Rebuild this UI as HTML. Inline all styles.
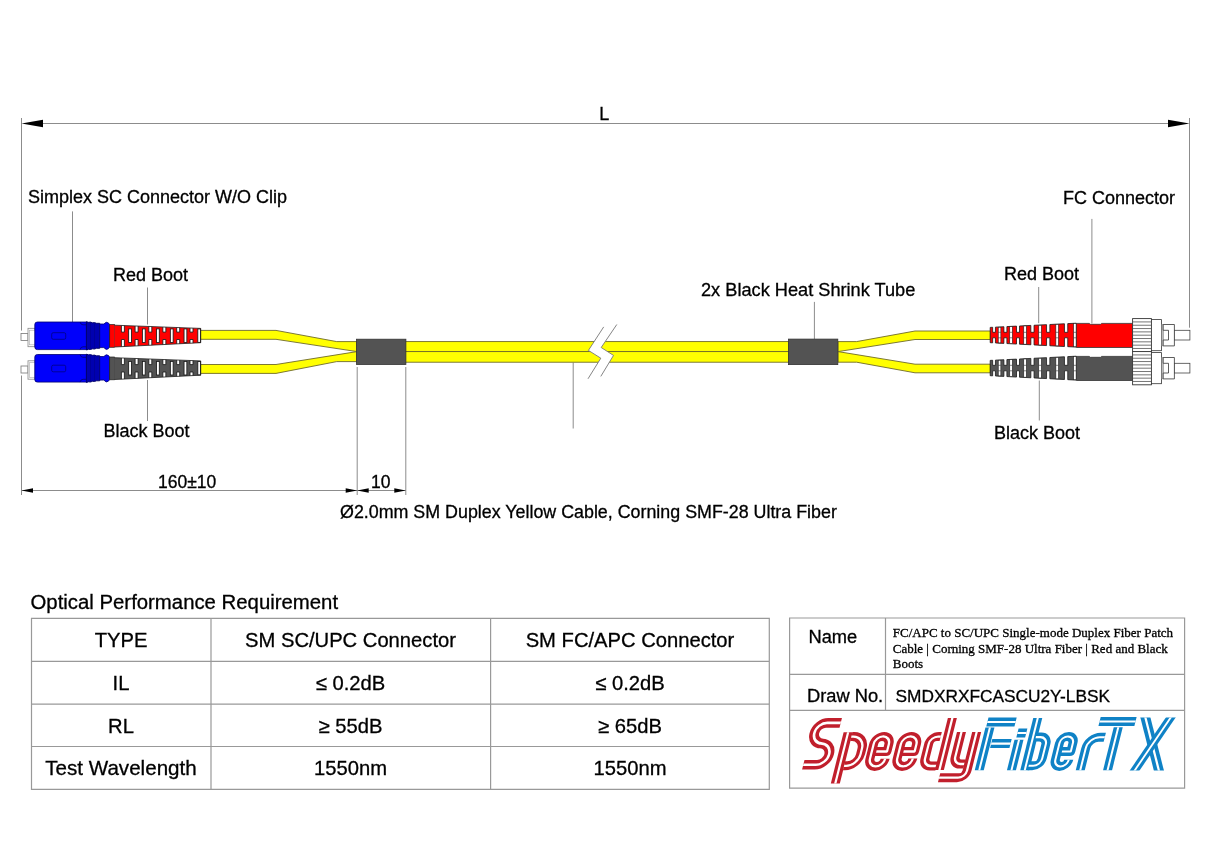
<!DOCTYPE html>
<html><head><meta charset="utf-8"><title>Drawing</title>
<style>
html,body{margin:0;padding:0;background:#fff;}
body{width:1214px;height:859px;overflow:hidden;font-family:"Liberation Sans",sans-serif;}
svg{display:block;will-change:transform;}
text{fill:#000;stroke:#000;stroke-width:0.3px;}
</style></head><body>
<svg width="1214" height="859" viewBox="0 0 1214 859">
<rect width="1214" height="859" fill="#fff"/>
<path d="M21.5 118 V330.6 M21.5 375.5 V495 M1189.5 118 V327.7" stroke="#8c8c8c" stroke-width="1"/>
<path d="M43 123.5 H1168" stroke="#8c8c8c" stroke-width="1.1"/>
<path d="M21.5 123.5 L43 119.8 L43 127.3 Z" fill="#000"/>
<path d="M1189.5 123.5 L1168 119.8 L1168 127.3 Z" fill="#000"/>
<path d="M72.5 211.4 V322 M147.5 287.5 V324.5 M147.5 380 V421 M814.4 301.9 V339 M1038.7 287 V323.2 M1039.3 380.5 V420.5 M1091.9 218.9 V323.4 M573.2 362.5 V428.5" stroke="#8c8c8c" stroke-width="1"/>
<path d="M357.2 367 V495 M405.8 367 V495" stroke="#8c8c8c" stroke-width="1"/>
<path d="M21.5 490.5 H405.8" stroke="#8c8c8c" stroke-width="1"/>
<path d="M21.5 490.5 L33 488.3 L33 492.7 Z M357.2 490.5 L345.7 488.3 L345.7 492.7 Z M357.2 490.5 L368.7 488.3 L368.7 492.7 Z M405.8 490.5 L394.3 488.3 L394.3 492.7 Z" fill="#000"/>
<path d="M200 330.4 H276 L336.7 341.6 H357 V351.6 L276 339.3 H200 Z" fill="#ffff00" stroke="#6e6a2a" stroke-width="0.9"/>
<path d="M200 364.5 H276 L357 351.6 V361.6 H336.7 L276 373.4 H200 Z" fill="#ffff00" stroke="#6e6a2a" stroke-width="0.9"/>
<rect x="357" y="341.6" width="432" height="10" fill="#ffff00" stroke="#6e6a2a" stroke-width="0.9"/>
<rect x="357" y="351.6" width="432" height="10.6" fill="#ffff00" stroke="#6e6a2a" stroke-width="0.9"/>
<path d="M838 341.6 H856.6 L915 331 H990.4 V339.5 H915 L838 351.6 Z" fill="#ffff00" stroke="#6e6a2a" stroke-width="0.9"/>
<path d="M838 351.6 L915 364.2 H990.4 V372.8 H915 L856.6 362.2 H838 Z" fill="#ffff00" stroke="#6e6a2a" stroke-width="0.9"/>
<path d="M603.7 326.9 L588.4 350.4 L600.8 358.2 L588 378.8 L600.8 376.4 L613.5 355.4 L601.2 347.5 L616.8 324.5 Z" fill="#fff" stroke="none"/>
<path d="M603.7 326.9 L588.4 350.4 L600.8 358.2 L588 378.8 M616.8 324.5 L601.2 347.5 L613.5 355.4 L600.8 376.4" fill="none" stroke="#777" stroke-width="0.9"/>
<rect x="356.5" y="339.2" width="49.4" height="25.3" fill="#535353" stroke="#333" stroke-width="0.8"/>
<rect x="788.5" y="339.1" width="49.3" height="25.5" fill="#535353" stroke="#333" stroke-width="0.8"/>
<rect x="21" y="333.5" width="7" height="7" fill="#fff" stroke="#777" stroke-width="0.8"/>
<rect x="28" y="328.3" width="7" height="18.4" fill="#fff" stroke="#888" stroke-width="0.8"/>
<rect x="29.6" y="330.2" width="5.4" height="14.6" fill="#fff" stroke="#aaa" stroke-width="0.6"/>
<rect x="34.8" y="322" width="54" height="27.6" rx="2.6" fill="#0000fb" stroke="#000070" stroke-width="0.8"/>
<rect x="51.7" y="332.7" width="14" height="6.6" rx="1.5" fill="none" stroke="#000080" stroke-width="0.8"/>
<path d="M80.1 322 Q80.6 324.8 83 324.8 H86.4 M80.1 349.6 Q80.6 346.8 83 346.8 H86.4" fill="none" stroke="#000070" stroke-width="0.8"/>
<path d="M86.4 321.7 L88.5 322.3 L90.5 322.1 L92.5 322.8 L94.5 322.6 L96.5 323.3 L99.7 323.3 L99.7 348.3 L96.5 348.3 L94.5 349 L92.5 348.8 L90.5 349.5 L88.5 349.3 L86.4 350 Z" fill="#0000b0" stroke="#000060" stroke-width="0.9"/>
<path d="M90.5 322.5 V349.2 M94.5 323 V348.6" stroke="#000095" stroke-width="0.8"/>
<path d="M99.7 324 H103.9 Q106.2 321 108.5 323 L109.5 324.5 V347.2 L108.5 348.6 Q106.2 350.8 103.9 347.6 H99.7 Z" fill="#0000fb" stroke="#000070" stroke-width="0.8"/>
<rect x="109.7" y="324.5" width="4.8" height="22.8" fill="#ff0000" stroke="#222" stroke-width="0.7"/>
<path d="M114.5 325.2 L200.7 328.4 L200.7 342.7 L114.5 347 Z" fill="#ff0000"/>
<path d="M121.40 325.51 V332.1 H124.40 V325.51" fill="#fff" stroke="#1a1a1a" stroke-width="0.85"/>
<path d="M121.40 346.58 V339.5 H124.40 V346.58" fill="#fff" stroke="#1a1a1a" stroke-width="0.85"/>
<path d="M135.10 326.02 V332.1 H138.10 V326.02" fill="#fff" stroke="#1a1a1a" stroke-width="0.85"/>
<path d="M135.10 345.90 V339.5 H138.10 V345.90" fill="#fff" stroke="#1a1a1a" stroke-width="0.85"/>
<path d="M148.80 326.53 V332.1 H151.80 V326.53" fill="#fff" stroke="#1a1a1a" stroke-width="0.85"/>
<path d="M148.80 345.21 V339.5 H151.80 V345.21" fill="#fff" stroke="#1a1a1a" stroke-width="0.85"/>
<path d="M162.85 327.05 V332.1 H165.85 V327.05" fill="#fff" stroke="#1a1a1a" stroke-width="0.85"/>
<path d="M162.85 344.51 V339.5 H165.85 V344.51" fill="#fff" stroke="#1a1a1a" stroke-width="0.85"/>
<path d="M176.70 327.56 V332.1 H179.70 V327.56" fill="#fff" stroke="#1a1a1a" stroke-width="0.85"/>
<path d="M176.70 343.82 V339.5 H179.70 V343.82" fill="#fff" stroke="#1a1a1a" stroke-width="0.85"/>
<path d="M190.00 328.06 V332.1 H193.00 V328.06" fill="#fff" stroke="#1a1a1a" stroke-width="0.85"/>
<path d="M190.00 343.16 V339.5 H193.00 V343.16" fill="#fff" stroke="#1a1a1a" stroke-width="0.85"/>
<rect x="128.65" y="328.90" width="2.8" height="13.60" fill="#fff" stroke="#1a1a1a" stroke-width="0.85"/>
<rect x="142.40" y="328.90" width="2.8" height="13.60" fill="#fff" stroke="#1a1a1a" stroke-width="0.85"/>
<rect x="156.50" y="328.90" width="2.8" height="13.60" fill="#fff" stroke="#1a1a1a" stroke-width="0.85"/>
<rect x="170.35" y="328.90" width="2.8" height="13.60" fill="#fff" stroke="#1a1a1a" stroke-width="0.85"/>
<rect x="184.05" y="328.90" width="2.8" height="13.60" fill="#fff" stroke="#1a1a1a" stroke-width="0.85"/>
<rect x="197.80" y="328.94" width="2.8" height="13.43" fill="#fff" stroke="#1a1a1a" stroke-width="0.85"/>
<path d="M114.5 325.2 L200.7 328.4 L200.7 342.7 L114.5 347" fill="none" stroke="#222" stroke-width="0.8"/>
<rect x="21" y="366.0" width="7" height="7" fill="#fff" stroke="#777" stroke-width="0.8"/>
<rect x="28" y="360.8" width="7" height="18.4" fill="#fff" stroke="#888" stroke-width="0.8"/>
<rect x="29.6" y="362.7" width="5.4" height="14.6" fill="#fff" stroke="#aaa" stroke-width="0.6"/>
<rect x="34.8" y="354.5" width="54" height="27.6" rx="2.6" fill="#0000fb" stroke="#000070" stroke-width="0.8"/>
<rect x="51.7" y="365.2" width="14" height="6.6" rx="1.5" fill="none" stroke="#000080" stroke-width="0.8"/>
<path d="M80.1 354.5 Q80.6 357.3 83 357.3 H86.4 M80.1 382.1 Q80.6 379.3 83 379.3 H86.4" fill="none" stroke="#000070" stroke-width="0.8"/>
<path d="M86.4 354.2 L88.5 354.8 L90.5 354.6 L92.5 355.3 L94.5 355.1 L96.5 355.8 L99.7 355.8 L99.7 380.8 L96.5 380.8 L94.5 381.5 L92.5 381.3 L90.5 382.0 L88.5 381.8 L86.4 382.5 Z" fill="#0000b0" stroke="#000060" stroke-width="0.9"/>
<path d="M90.5 355.0 V381.7 M94.5 355.5 V381.1" stroke="#000095" stroke-width="0.8"/>
<path d="M99.7 356.5 H103.9 Q106.2 353.5 108.5 355.5 L109.5 357.0 V379.7 L108.5 381.1 Q106.2 383.3 103.9 380.1 H99.7 Z" fill="#0000fb" stroke="#000070" stroke-width="0.8"/>
<rect x="109.7" y="357.0" width="4.8" height="22.8" fill="#535353" stroke="#222" stroke-width="0.7"/>
<path d="M114.5 357.7 L200.7 360.9 L200.7 375.2 L114.5 379.5 Z" fill="#535353"/>
<path d="M121.40 358.01 V364.6 H124.40 V358.01" fill="#fff" stroke="#1a1a1a" stroke-width="0.85"/>
<path d="M121.40 379.08 V372.0 H124.40 V379.08" fill="#fff" stroke="#1a1a1a" stroke-width="0.85"/>
<path d="M135.10 358.52 V364.6 H138.10 V358.52" fill="#fff" stroke="#1a1a1a" stroke-width="0.85"/>
<path d="M135.10 378.40 V372.0 H138.10 V378.40" fill="#fff" stroke="#1a1a1a" stroke-width="0.85"/>
<path d="M148.80 359.03 V364.6 H151.80 V359.03" fill="#fff" stroke="#1a1a1a" stroke-width="0.85"/>
<path d="M148.80 377.71 V372.0 H151.80 V377.71" fill="#fff" stroke="#1a1a1a" stroke-width="0.85"/>
<path d="M162.85 359.55 V364.6 H165.85 V359.55" fill="#fff" stroke="#1a1a1a" stroke-width="0.85"/>
<path d="M162.85 377.01 V372.0 H165.85 V377.01" fill="#fff" stroke="#1a1a1a" stroke-width="0.85"/>
<path d="M176.70 360.06 V364.6 H179.70 V360.06" fill="#fff" stroke="#1a1a1a" stroke-width="0.85"/>
<path d="M176.70 376.32 V372.0 H179.70 V376.32" fill="#fff" stroke="#1a1a1a" stroke-width="0.85"/>
<path d="M190.00 360.56 V364.6 H193.00 V360.56" fill="#fff" stroke="#1a1a1a" stroke-width="0.85"/>
<path d="M190.00 375.66 V372.0 H193.00 V375.66" fill="#fff" stroke="#1a1a1a" stroke-width="0.85"/>
<rect x="128.65" y="361.40" width="2.8" height="13.60" fill="#fff" stroke="#1a1a1a" stroke-width="0.85"/>
<rect x="142.40" y="361.40" width="2.8" height="13.60" fill="#fff" stroke="#1a1a1a" stroke-width="0.85"/>
<rect x="156.50" y="361.40" width="2.8" height="13.60" fill="#fff" stroke="#1a1a1a" stroke-width="0.85"/>
<rect x="170.35" y="361.40" width="2.8" height="13.60" fill="#fff" stroke="#1a1a1a" stroke-width="0.85"/>
<rect x="184.05" y="361.40" width="2.8" height="13.60" fill="#fff" stroke="#1a1a1a" stroke-width="0.85"/>
<rect x="197.80" y="361.44" width="2.8" height="13.43" fill="#fff" stroke="#1a1a1a" stroke-width="0.85"/>
<path d="M114.5 357.7 L200.7 360.9 L200.7 375.2 L114.5 379.5" fill="none" stroke="#222" stroke-width="0.8"/>
<path d="M990.20 327.40 L992.65 327.28 L992.65 332.30 L995.45 332.30 L995.45 327.14 L1003.90 326.73 L1003.90 332.30 L1006.90 332.30 L1006.90 326.58 L1016.50 326.12 L1016.50 332.30 L1019.50 332.30 L1019.50 325.97 L1030.85 325.41 L1030.85 332.30 L1034.05 332.30 L1034.05 325.26 L1046.55 324.65 L1046.55 332.30 L1049.85 332.30 L1049.85 324.49 L1064.45 323.77 L1064.45 332.30 L1067.75 332.30 L1067.75 323.61 L1076.20 323.20 L1076.20 347.10 L1067.75 346.67 L1067.75 337.80 L1064.45 337.80 L1064.45 346.50 L1049.85 345.75 L1049.85 337.80 L1046.55 337.80 L1046.55 345.58 L1034.05 344.94 L1034.05 337.80 L1030.85 337.80 L1030.85 344.78 L1019.50 344.20 L1019.50 337.80 L1016.50 337.80 L1016.50 344.05 L1006.90 343.55 L1006.90 337.80 L1003.90 337.80 L1003.90 343.40 L995.45 342.97 L995.45 337.80 L992.65 337.80 L992.65 342.83 L990.20 342.70 Z" fill="#ff0000" stroke="#1a1a1a" stroke-width="0.8"/>
<rect x="998.25" y="327.24" width="2.6" height="15.63" fill="#fff" stroke="#222" stroke-width="0.6"/>
<path d="M998.25 332.30 h2.6 M998.25 337.80 h2.6" stroke="#333" stroke-width="0.6"/>
<rect x="1009.75" y="326.68" width="2.6" height="16.78" fill="#fff" stroke="#222" stroke-width="0.6"/>
<path d="M1009.75 332.30 h2.6 M1009.75 337.80 h2.6" stroke="#333" stroke-width="0.6"/>
<rect x="1023.75" y="326.00" width="2.6" height="18.19" fill="#fff" stroke="#222" stroke-width="0.6"/>
<path d="M1023.75 332.30 h2.6 M1023.75 337.80 h2.6" stroke="#333" stroke-width="0.6"/>
<rect x="1038.75" y="325.27" width="2.6" height="19.69" fill="#fff" stroke="#222" stroke-width="0.6"/>
<path d="M1038.75 332.30 h2.6 M1038.75 337.80 h2.6" stroke="#333" stroke-width="0.6"/>
<rect x="1055.85" y="324.43" width="2.6" height="21.40" fill="#fff" stroke="#222" stroke-width="0.6"/>
<path d="M1055.85 332.30 h2.6 M1055.85 337.80 h2.6" stroke="#333" stroke-width="0.6"/>
<rect x="1073.60" y="323.56" width="2.6" height="23.17" fill="#fff" stroke="#222" stroke-width="0.6"/>
<path d="M1073.60 332.30 h2.6 M1073.60 337.80 h2.6" stroke="#333" stroke-width="0.6"/>
<path d="M1076.4 323.4 H1089.3 L1090.3 324.3 H1100.6 L1101.6 323.4 H1132.6 V347.5 H1076.4 Z" fill="#ff0000" stroke="#333" stroke-width="0.8"/>
<rect x="1132.6" y="318.6" width="18.8" height="33.2" fill="#fff" stroke="#333" stroke-width="0.9"/>
<path d="M1133 321.92 H1151 M1133 325.24 H1151 M1133 328.56 H1151 M1133 331.88 H1151 M1133 335.20 H1151 M1133 338.52 H1151 M1133 341.84 H1151 M1133 345.16 H1151 M1133 348.48 H1151" stroke="#666" stroke-width="0.9"/>
<rect x="1151.4" y="319.6" width="10.2" height="31.1" fill="#fff" stroke="#333" stroke-width="0.8"/>
<rect x="1161.6" y="324.5" width="1.8" height="21.4" fill="#bbb" stroke="#777" stroke-width="0.5"/>
<path d="M1163.2 324.5 H1174.4 V345.9 H1163.2 V340 H1168.5 V330.3 H1163.2 Z" fill="#fff" stroke="#333" stroke-width="0.8"/>
<rect x="1174.4" y="330.3" width="15.5" height="9.7" fill="#fff" stroke="#444" stroke-width="0.8"/>
<path d="M990.20 360.40 L992.65 360.28 L992.65 365.30 L995.45 365.30 L995.45 360.14 L1003.90 359.73 L1003.90 365.30 L1006.90 365.30 L1006.90 359.58 L1016.50 359.12 L1016.50 365.30 L1019.50 365.30 L1019.50 358.97 L1030.85 358.41 L1030.85 365.30 L1034.05 365.30 L1034.05 358.26 L1046.55 357.65 L1046.55 365.30 L1049.85 365.30 L1049.85 357.49 L1064.45 356.77 L1064.45 365.30 L1067.75 365.30 L1067.75 356.61 L1076.20 356.20 L1076.20 380.10 L1067.75 379.67 L1067.75 370.80 L1064.45 370.80 L1064.45 379.50 L1049.85 378.75 L1049.85 370.80 L1046.55 370.80 L1046.55 378.58 L1034.05 377.94 L1034.05 370.80 L1030.85 370.80 L1030.85 377.78 L1019.50 377.20 L1019.50 370.80 L1016.50 370.80 L1016.50 377.05 L1006.90 376.55 L1006.90 370.80 L1003.90 370.80 L1003.90 376.40 L995.45 375.97 L995.45 370.80 L992.65 370.80 L992.65 375.83 L990.20 375.70 Z" fill="#535353" stroke="#1a1a1a" stroke-width="0.8"/>
<rect x="998.25" y="360.24" width="2.6" height="15.63" fill="#fff" stroke="#222" stroke-width="0.6"/>
<path d="M998.25 365.30 h2.6 M998.25 370.80 h2.6" stroke="#333" stroke-width="0.6"/>
<rect x="1009.75" y="359.68" width="2.6" height="16.78" fill="#fff" stroke="#222" stroke-width="0.6"/>
<path d="M1009.75 365.30 h2.6 M1009.75 370.80 h2.6" stroke="#333" stroke-width="0.6"/>
<rect x="1023.75" y="359.00" width="2.6" height="18.19" fill="#fff" stroke="#222" stroke-width="0.6"/>
<path d="M1023.75 365.30 h2.6 M1023.75 370.80 h2.6" stroke="#333" stroke-width="0.6"/>
<rect x="1038.75" y="358.27" width="2.6" height="19.69" fill="#fff" stroke="#222" stroke-width="0.6"/>
<path d="M1038.75 365.30 h2.6 M1038.75 370.80 h2.6" stroke="#333" stroke-width="0.6"/>
<rect x="1055.85" y="357.43" width="2.6" height="21.40" fill="#fff" stroke="#222" stroke-width="0.6"/>
<path d="M1055.85 365.30 h2.6 M1055.85 370.80 h2.6" stroke="#333" stroke-width="0.6"/>
<rect x="1073.60" y="356.56" width="2.6" height="23.17" fill="#fff" stroke="#222" stroke-width="0.6"/>
<path d="M1073.60 365.30 h2.6 M1073.60 370.80 h2.6" stroke="#333" stroke-width="0.6"/>
<path d="M1076.4 356.4 H1089.3 L1090.3 357.3 H1100.6 L1101.6 356.4 H1132.6 V380.5 H1076.4 Z" fill="#535353" stroke="#333" stroke-width="0.8"/>
<rect x="1132.6" y="351.6" width="18.8" height="33.2" fill="#fff" stroke="#333" stroke-width="0.9"/>
<path d="M1133 354.92 H1151 M1133 358.24 H1151 M1133 361.56 H1151 M1133 364.88 H1151 M1133 368.20 H1151 M1133 371.52 H1151 M1133 374.84 H1151 M1133 378.16 H1151 M1133 381.48 H1151" stroke="#666" stroke-width="0.9"/>
<rect x="1151.4" y="352.6" width="10.2" height="31.1" fill="#fff" stroke="#333" stroke-width="0.8"/>
<rect x="1161.6" y="357.5" width="1.8" height="21.4" fill="#bbb" stroke="#777" stroke-width="0.5"/>
<path d="M1163.2 357.5 H1174.4 V378.9 H1163.2 V373 H1168.5 V363.3 H1163.2 Z" fill="#fff" stroke="#333" stroke-width="0.8"/>
<rect x="1174.4" y="363.3" width="15.5" height="9.7" fill="#fff" stroke="#444" stroke-width="0.8"/>
<text x="599.2" y="120" font-size="18" text-anchor="start" font-family="Liberation Sans, sans-serif" >L</text>
<text x="28" y="203" font-size="18" text-anchor="start" font-family="Liberation Sans, sans-serif" >Simplex SC Connector W/O Clip</text>
<text x="1063" y="204.2" font-size="18" text-anchor="start" font-family="Liberation Sans, sans-serif" >FC Connector</text>
<text x="113" y="280.6" font-size="18" text-anchor="start" font-family="Liberation Sans, sans-serif" >Red Boot</text>
<text x="1004" y="280.2" font-size="18" text-anchor="start" font-family="Liberation Sans, sans-serif" >Red Boot</text>
<text x="701" y="295.8" font-size="18.2" text-anchor="start" font-family="Liberation Sans, sans-serif" >2x Black Heat Shrink Tube</text>
<text x="103.5" y="437.2" font-size="18" text-anchor="start" font-family="Liberation Sans, sans-serif" >Black Boot</text>
<text x="994" y="438.5" font-size="18" text-anchor="start" font-family="Liberation Sans, sans-serif" >Black Boot</text>
<text x="158" y="487.6" font-size="17.5" text-anchor="start" font-family="Liberation Sans, sans-serif" >160±10</text>
<text x="371" y="487.6" font-size="17.5" text-anchor="start" font-family="Liberation Sans, sans-serif" >10</text>
<text x="340" y="517.5" font-size="17.85" text-anchor="start" font-family="Liberation Sans, sans-serif" >Ø2.0mm SM Duplex Yellow Cable, Corning SMF-28 Ultra Fiber</text>
<text x="30.5" y="609" font-size="20.35" text-anchor="start" font-family="Liberation Sans, sans-serif" >Optical Performance Requirement</text>
<path d="M31.5 618.3 H769.3 V789.3 H31.5 Z M31.5 661.3 H769.3 M31.5 704.1 H769.3 M31.5 746.5 H769.3 M211 618.3 V789.3 M490.6 618.3 V789.3" fill="none" stroke="#999" stroke-width="1.2"/>
<text x="121" y="647.3" font-size="20.2" text-anchor="middle" font-family="Liberation Sans, sans-serif" >TYPE</text>
<text x="350.5" y="647.3" font-size="20.2" text-anchor="middle" font-family="Liberation Sans, sans-serif" >SM SC/UPC Connector</text>
<text x="630" y="647.3" font-size="20.2" text-anchor="middle" font-family="Liberation Sans, sans-serif" >SM FC/APC Connector</text>
<text x="121" y="690" font-size="20.2" text-anchor="middle" font-family="Liberation Sans, sans-serif" >IL</text>
<text x="350.5" y="690" font-size="20.2" text-anchor="middle" font-family="Liberation Sans, sans-serif" >≤ 0.2dB</text>
<text x="630" y="690" font-size="20.2" text-anchor="middle" font-family="Liberation Sans, sans-serif" >≤ 0.2dB</text>
<text x="121" y="732.5" font-size="20.2" text-anchor="middle" font-family="Liberation Sans, sans-serif" >RL</text>
<text x="350.5" y="732.5" font-size="20.2" text-anchor="middle" font-family="Liberation Sans, sans-serif" >≥ 55dB</text>
<text x="630" y="732.5" font-size="20.2" text-anchor="middle" font-family="Liberation Sans, sans-serif" >≥ 65dB</text>
<text x="121" y="775" font-size="20.6" text-anchor="middle" font-family="Liberation Sans, sans-serif" >Test Wavelength</text>
<text x="350.5" y="775" font-size="20.2" text-anchor="middle" font-family="Liberation Sans, sans-serif" >1550nm</text>
<text x="630" y="775" font-size="20.2" text-anchor="middle" font-family="Liberation Sans, sans-serif" >1550nm</text>
<path d="M789.6 618 H1184.6 V788.2 H789.6 Z M789.6 674.4 H1184.6 M789.6 710.3 H1184.6 M885.5 618 V710.3" fill="none" stroke="#999" stroke-width="1.2"/>
<text x="808.5" y="643" font-size="18.3" text-anchor="start" font-family="Liberation Sans, sans-serif" >Name</text>
<text x="807" y="702.3" font-size="18.3" text-anchor="start" font-family="Liberation Sans, sans-serif" >Draw No.</text>
<text x="895.5" y="702.3" font-size="17.3" text-anchor="start" font-family="Liberation Sans, sans-serif" >SMDXRXFCASCU2Y-LBSK</text>
<text x="892.8" y="636.9" font-size="13" text-anchor="start" font-family="Liberation Serif, sans-serif" >FC/APC to SC/UPC Single-mode Duplex Fiber Patch</text>
<text x="892.8" y="652.5" font-size="13" text-anchor="start" font-family="Liberation Serif, sans-serif" >Cable | Corning SMF-28 Ultra Fiber | Red and Black</text>
<text x="892.8" y="668" font-size="13" text-anchor="start" font-family="Liberation Serif, sans-serif" >Boots</text>
<defs><clipPath id="xclip"><rect x="1100" y="717.4" width="80" height="53"/></clipPath></defs>
<g transform="translate(0 770) skewX(-14) translate(0 -770)">
<path d="M829 722.9 H815.45 A10.3 10.3 0 0 0 815.45 743.5 H814.55 A10.65 10.65 0 0 1 814.55 764.8 H802" fill="none" stroke="#c11f2c" stroke-width="9.6" stroke-linejoin="round"/>
<path d="M829 722.9 H815.45 A10.3 10.3 0 0 0 815.45 743.5 H814.55 A10.65 10.65 0 0 1 814.55 764.8 H802" fill="none" stroke="#fff" stroke-width="2.6" stroke-linejoin="round"/>
<path d="M838.7 732.2 V783.6" fill="none" stroke="#c11f2c" stroke-width="9.0" stroke-linejoin="round"/>
<path d="M838.7 732.2 V783.6" fill="none" stroke="#fff" stroke-width="2.3" stroke-linejoin="round"/>
<path d="M843 736.6 H845 A11.6 11.6 0 0 1 856.6 748.2 V754.2 A11.6 11.6 0 0 1 845 765.8 H843" fill="none" stroke="#c11f2c" stroke-width="9.0" stroke-linejoin="round"/>
<path d="M843 736.6 H845 A11.6 11.6 0 0 1 856.6 748.2 V754.2 A11.6 11.6 0 0 1 845 765.8 H843" fill="none" stroke="#fff" stroke-width="2.3" stroke-linejoin="round"/>
<path d="M871.70 751.5 H882.40 V744.00 A7.60 7.60 0 0 0 867.20 744.00 V758.80 A7.60 7.60 0 0 0 882.40 758.80" fill="none" stroke="#c11f2c" stroke-width="9.0" stroke-linejoin="round"/>
<path d="M871.70 751.5 H882.40 V744.00 A7.60 7.60 0 0 0 867.20 744.00 V758.80 A7.60 7.60 0 0 0 882.40 758.80" fill="none" stroke="#fff" stroke-width="2.3" stroke-linejoin="round"/>
<path d="M898.90 751.5 H910.00 V744.20 A7.80 7.80 0 0 0 894.40 744.20 V758.60 A7.80 7.80 0 0 0 910.00 758.60" fill="none" stroke="#c11f2c" stroke-width="9.0" stroke-linejoin="round"/>
<path d="M898.90 751.5 H910.00 V744.20 A7.80 7.80 0 0 0 894.40 744.20 V758.60 A7.80 7.80 0 0 0 910.00 758.60" fill="none" stroke="#fff" stroke-width="2.3" stroke-linejoin="round"/>
<path d="M932.4 736.6 H929.6 A7.4 7.4 0 0 0 922.2 744 V758.6 A7.4 7.4 0 0 0 929.6 766 H935.5" fill="none" stroke="#c11f2c" stroke-width="9.0" stroke-linejoin="round"/>
<path d="M932.4 736.6 H929.6 A7.4 7.4 0 0 0 922.2 744 V758.6 A7.4 7.4 0 0 0 929.6 766 H935.5" fill="none" stroke="#fff" stroke-width="2.3" stroke-linejoin="round"/>
<path d="M939.4 718 V770" fill="none" stroke="#c11f2c" stroke-width="9.0" stroke-linejoin="round"/>
<path d="M939.4 718 V770" fill="none" stroke="#fff" stroke-width="2.3" stroke-linejoin="round"/>
<path d="M952 732 V757 A7 7 0 0 0 959 764 H963" fill="none" stroke="#c11f2c" stroke-width="9.0" stroke-linejoin="round"/>
<path d="M952 732 V757 A7 7 0 0 0 959 764 H963" fill="none" stroke="#fff" stroke-width="2.3" stroke-linejoin="round"/>
<path d="M967.2 732 V770.5 A7.2 7.2 0 0 1 960 777.7 H941" fill="none" stroke="#c11f2c" stroke-width="9.0" stroke-linejoin="round"/>
<path d="M967.2 732 V770.5 A7.2 7.2 0 0 1 960 777.7 H941" fill="none" stroke="#fff" stroke-width="2.3" stroke-linejoin="round"/>
<path d="M975.4 721.9 H1003.6" fill="none" stroke="#0f82c6" stroke-width="9.0" stroke-linejoin="round"/>
<path d="M975.4 721.9 H1003.6" fill="none" stroke="#fff" stroke-width="2.05" stroke-linejoin="round"/>
<path d="M979.3 727.4 V770.2" fill="none" stroke="#0f82c6" stroke-width="9.0" stroke-linejoin="round"/>
<path d="M979.3 727.4 V770.2" fill="none" stroke="#fff" stroke-width="2.05" stroke-linejoin="round"/>
<path d="M984.6 743.6 H1004" fill="none" stroke="#0f82c6" stroke-width="9.0" stroke-linejoin="round"/>
<path d="M984.6 743.6 H1004" fill="none" stroke="#fff" stroke-width="2.05" stroke-linejoin="round"/>
<path d="M1008.2 733 H1017" fill="none" stroke="#0f82c6" stroke-width="9.0" stroke-linejoin="round"/>
<path d="M1008.2 733 H1017" fill="none" stroke="#fff" stroke-width="2.05" stroke-linejoin="round"/>
<path d="M1011.5 739.8 V770.2" fill="none" stroke="#0f82c6" stroke-width="9.0" stroke-linejoin="round"/>
<path d="M1011.5 739.8 V770.2" fill="none" stroke="#fff" stroke-width="2.05" stroke-linejoin="round"/>
<path d="M1024.8 718 V770.2" fill="none" stroke="#0f82c6" stroke-width="9.0" stroke-linejoin="round"/>
<path d="M1024.8 718 V770.2" fill="none" stroke="#fff" stroke-width="2.05" stroke-linejoin="round"/>
<path d="M1027.6 737.1 H1032.2 A7.2 7.2 0 0 1 1039.4 744.3 V758.6 A7.2 7.2 0 0 1 1032.2 765.8 H1027.6" fill="none" stroke="#0f82c6" stroke-width="9.0" stroke-linejoin="round"/>
<path d="M1027.6 737.1 H1032.2 A7.2 7.2 0 0 1 1039.4 744.3 V758.6 A7.2 7.2 0 0 1 1032.2 765.8 H1027.6" fill="none" stroke="#fff" stroke-width="2.05" stroke-linejoin="round"/>
<path d="M1057.30 751.5 H1066.20 V743.10 A6.70 6.70 0 0 0 1052.80 743.10 V759.70 A6.70 6.70 0 0 0 1066.20 759.70" fill="none" stroke="#0f82c6" stroke-width="9.0" stroke-linejoin="round"/>
<path d="M1057.30 751.5 H1066.20 V743.10 A6.70 6.70 0 0 0 1052.80 743.10 V759.70 A6.70 6.70 0 0 0 1066.20 759.70" fill="none" stroke="#fff" stroke-width="2.05" stroke-linejoin="round"/>
<path d="M1080.3 770.2 V748.4 A11.2 11.2 0 0 1 1091.5 737.2 H1096.6" fill="none" stroke="#0f82c6" stroke-width="9.0" stroke-linejoin="round"/>
<path d="M1080.3 770.2 V748.4 A11.2 11.2 0 0 1 1091.5 737.2 H1096.6" fill="none" stroke="#fff" stroke-width="2.05" stroke-linejoin="round"/>
<path d="M1087.5 721.5 H1123.4" fill="none" stroke="#0f82c6" stroke-width="9.0" stroke-linejoin="round"/>
<path d="M1087.5 721.5 H1123.4" fill="none" stroke="#fff" stroke-width="2.05" stroke-linejoin="round"/>
<path d="M1107.6 727.2 V770.2" fill="none" stroke="#0f82c6" stroke-width="9.0" stroke-linejoin="round"/>
<path d="M1107.6 727.2 V770.2" fill="none" stroke="#fff" stroke-width="2.05" stroke-linejoin="round"/>
<path d="M1127.2 707.4 L1164 780.4" fill="none" stroke="#0f82c6" stroke-width="9.0" stroke-linejoin="round" clip-path="url(#xclip)"/>
<path d="M1127.2 707.4 L1164 780.4" fill="none" stroke="#fff" stroke-width="2.05" stroke-linejoin="round" clip-path="url(#xclip)"/>
<path d="M1162 707.4 L1130.5 780.4" fill="none" stroke="#0f82c6" stroke-width="9.0" stroke-linejoin="round" clip-path="url(#xclip)"/>
<path d="M1162 707.4 L1130.5 780.4" fill="none" stroke="#fff" stroke-width="2.05" stroke-linejoin="round" clip-path="url(#xclip)"/>
</g>
</svg>
</body></html>
